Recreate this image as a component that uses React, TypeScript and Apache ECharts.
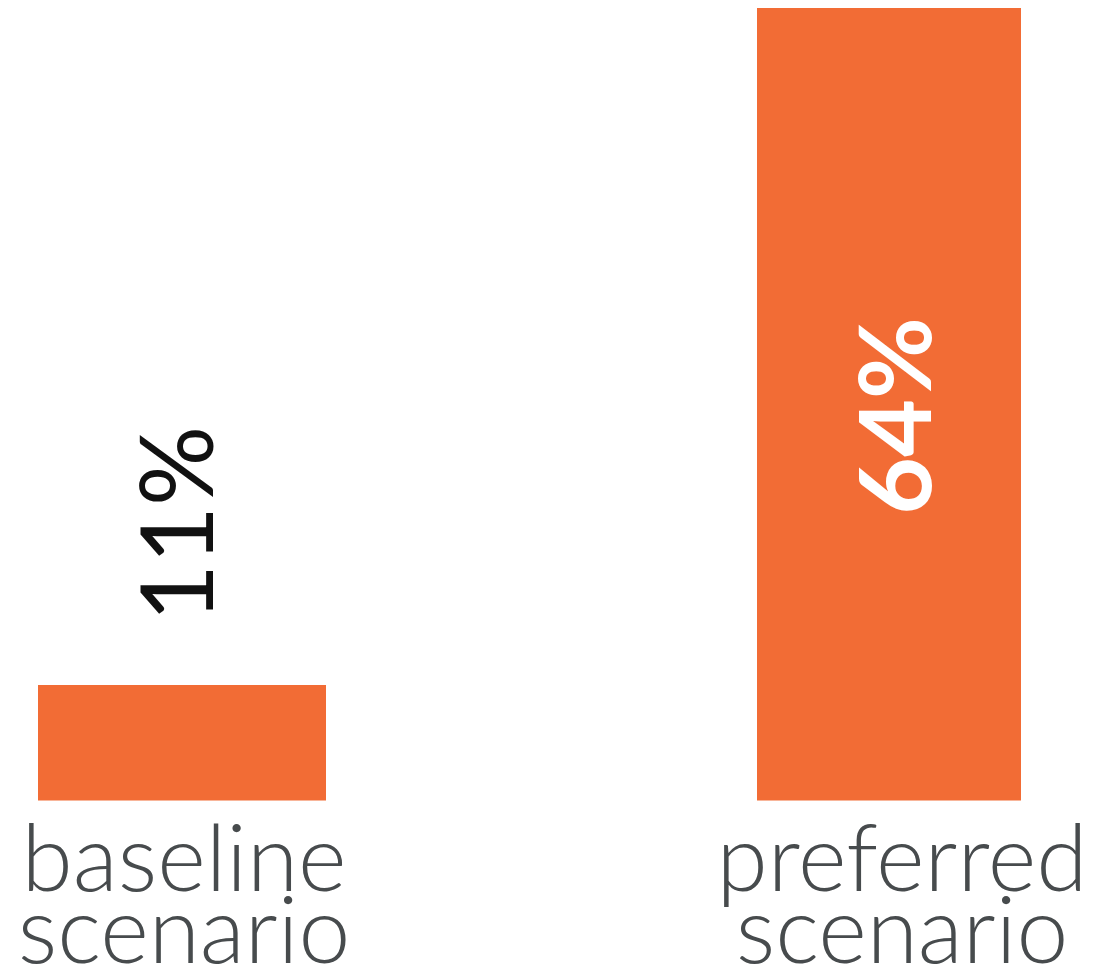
import React, { useEffect, useRef } from "react";
import * as echarts from "echarts";

const categories = ["baseline\nscenario", "preferred\nscenario"];
const baselineValues = [11, null];
const preferredValues = [null, 64];
const valueLabels = ["11%", "64%"];

const ORANGE = "#F26C35";

export default function App() {
  const ref = useRef<HTMLDivElement>(null);
  useEffect(() => {
    if (!ref.current) return;
    const chart = echarts.init(ref.current, null, { renderer: "svg" });
    const baseX = {
      type: "category" as const,
      boundaryGap: false,
      axisLine: { show: false },
      axisTick: { show: false },
      splitLine: { show: false },
    };
    chart.setOption({
      animation: false,
      backgroundColor: "#ffffff",
      grid: { left: 182, right: 213, top: 5, bottom: 172 },
      xAxis: [
        {
          ...baseX,
          data: [
            { value: categories[0], textStyle: { padding: [0, 0, 0, 4] } },
            { value: categories[1], textStyle: { padding: [0, 0, 0, 26] } },
          ],
          axisLabel: {
            show: true,
            interval: 0,
            margin: 18,
            fontFamily: "'Lato Light', Lato",
            fontWeight: 300,
            fontSize: 93,
            lineHeight: 72,
            color: "#474b4d",
          },
        },
        { ...baseX, data: categories, axisLabel: { show: false } },
      ],
      yAxis: {
        type: "value",
        min: 2,
        max: 64,
        show: false,
        splitLine: { show: false },
      },
      series: [
        {
          type: "bar",
          xAxisIndex: 0,
          data: baselineValues,
          barWidth: 288,
          itemStyle: { color: ORANGE },
          label: {
            show: true,
            formatter: () => valueLabels[0],
            position: "top",
            rotate: 90,
            align: "left",
            verticalAlign: "middle",
            distance: 74,
            offset: [-11, -8],
            fontFamily: "Lato",
            fontWeight: "normal",
            fontSize: 100,
            color: "#111111",
          },
        },
        {
          type: "bar",
          xAxisIndex: 1,
          data: preferredValues,
          barWidth: 264,
          itemStyle: { color: ORANGE },
          label: {
            show: true,
            formatter: () => valueLabels[1],
            position: [132, 416],
            rotate: 90,
            align: "center",
            verticalAlign: "middle",
            offset: [5, 3],
            fontFamily: "Lato",
            fontWeight: "bold",
            fontSize: 100,
            color: "#ffffff",
          },
        },
      ],
    });
    return () => chart.dispose();
  }, []);
  return <div ref={ref} style={{ width: 1102, height: 973, margin: -8 }} />;
}
